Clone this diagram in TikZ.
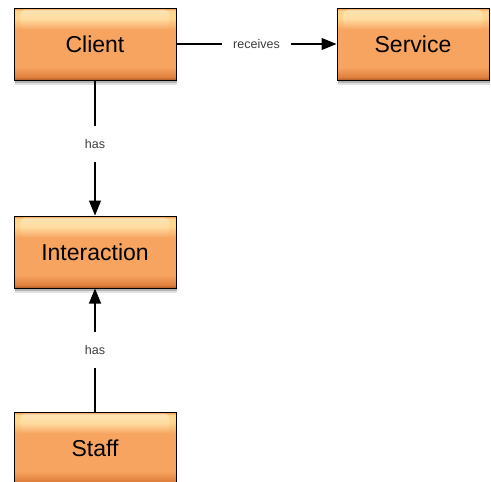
\documentclass[tikz,border=0pt]{standalone}
\usepackage{fontspec}
\setmainfont{Liberation Sans}
\usetikzlibrary{arrows.meta,shadows,fadings}

% glossy orange fill for the entity boxes
\definecolor{orBot}{RGB}{170,88,34}
\definecolor{orLow}{RGB}{222,128,60}
\definecolor{orMid}{RGB}{247,164,96}
\definecolor{orHi}{RGB}{255,214,140}
\definecolor{orRim}{RGB}{232,144,74}
\definecolor{lblgray}{RGB}{60,60,60}
\pgfdeclareverticalshading{glossorange}{100bp}{%
  color(0bp)=(orBot); color(25bp)=(orBot); color(27bp)=(orLow);
  color(34bp)=(orMid); color(60bp)=(orMid); color(68bp)=(orHi);
  color(73bp)=(orHi); color(75bp)=(orRim); color(100bp)=(orRim)}

\tikzset{
  entity/.style={draw=black, line width=1pt, shading=glossorange,
    minimum width=162pt, minimum height=72pt, inner sep=0pt,
    font=\fontsize{23}{27}\selectfont, text=black,
    drop shadow={shadow xshift=1pt, shadow yshift=-5pt, opacity=0.12, fill=black},
    drop shadow={shadow xshift=1pt, shadow yshift=-3pt, opacity=0.2, fill=black}},
  gloss/.style={fill=white, opacity=0.35, path fading=south, rounded corners=5pt},
  conn/.style={line width=1.1pt, -{Triangle[length=15pt,width=12pt]}},
  lbl/.style={fill=white, inner xsep=11pt, inner ysep=13pt,
    font=\fontsize{12.5}{15}\selectfont, text=lblgray},
}

\begin{document}
\begin{tikzpicture}[x=1pt, y=-1pt]
  \useasboundingbox (0,0) rectangle (491,482);

  \node[entity] (client) at (95,44) {Client};
  \node[entity, minimum width=152pt] (service) at (413,44) {Service};
  \node[entity] (interaction) at (95,252) {Interaction};
  \node[entity] (staff) at (95,448) {Staff};

  % sheen across the upper part of each box
  \foreach \n in {client,service,interaction,staff}
    \fill[gloss] ([xshift=7pt,yshift=-2pt]\n.north west)
      rectangle ([xshift=-7pt,yshift=-22pt]\n.north east);

  \draw[conn] (client) -- node[lbl] {receives} (service);
  \draw[conn] (client) -- node[lbl, pos=0.47] {has} (interaction);
  \draw[conn] (staff) -- node[lbl] {has} (interaction);
\end{tikzpicture}
\end{document}
